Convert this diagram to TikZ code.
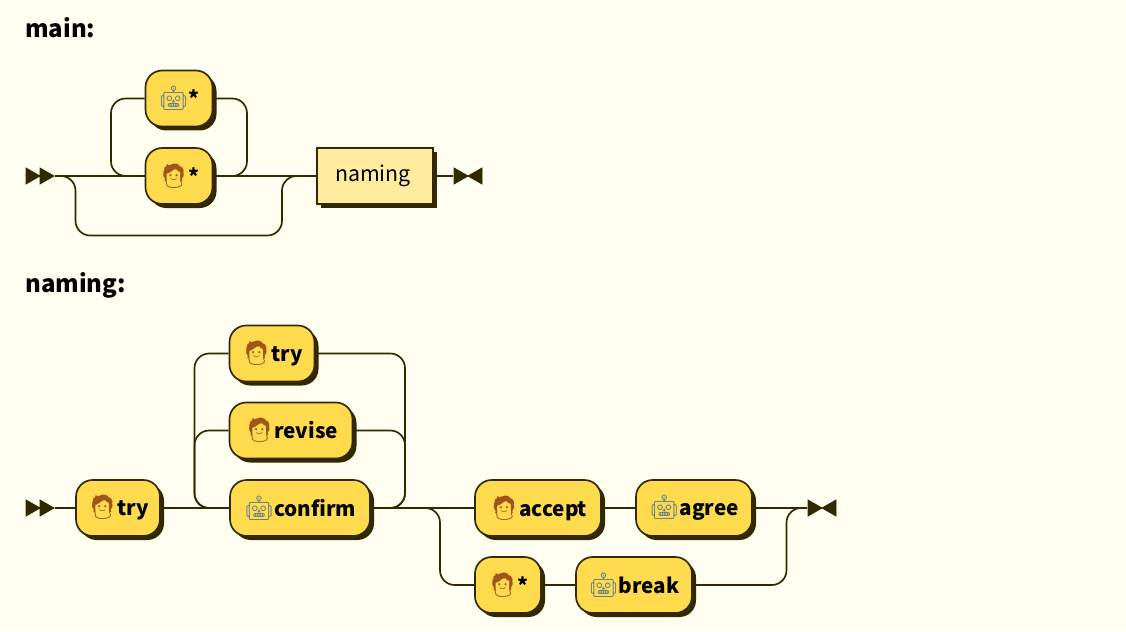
\documentclass[tikz,border=0pt]{standalone}
\usepackage{fontspec}
\setmainfont{Noto Sans CJK SC}
\newfontfamily\emojifont{Noto Emoji}
\usetikzlibrary{shadows}
\definecolor{pagebg}{HTML}{FFFEF0}
\definecolor{railcol}{HTML}{332900}
\definecolor{termfill}{HTML}{FFDB4D}
\definecolor{nontermfill}{HTML}{FFEC9E}
\definecolor{botcol}{HTML}{607D8B}
\definecolor{mancol}{HTML}{A0561A}
\newcommand{\robotface}{{\fontsize{18}{20}\emojifont\color{botcol}\symbol{"1F916}}}
\newcommand{\personface}{{\fontsize{18}{20}\emojifont\color{mancol}\symbol{"1F9D1}}}
\tikzset{
  x=.75pt, y=-.75pt,
  rail/.style={draw=railcol, line width=1.25pt, rounded corners=11pt},
  term/.style={draw=railcol, fill=termfill, line width=1.25pt, rounded corners=12.5pt,
    minimum width=#1*.75pt, minimum height=42pt, inner sep=0pt, font=\fontsize{15.5}{20}\selectfont\bfseries,
    drop shadow={shadow xshift=3pt, shadow yshift=-3pt, fill=railcol, opacity=1}},
  nonterm/.style={draw=railcol, fill=nontermfill, line width=1.25pt,
    minimum width=#1*.75pt, minimum height=42pt, inner sep=0pt, font=\fontsize{16}{20}\selectfont,
    drop shadow={shadow xshift=3pt, shadow yshift=-3pt, fill=railcol, opacity=1}},
  heading/.style={anchor=base west, inner sep=0pt, font=\fontsize{18}{22}\selectfont\bfseries},
  railin/.pic={\filldraw[railcol, line width=.6pt] (-29,-8) -- (-15,0) -- (-29,8) -- cycle (-15,-8) -- (-1,0) -- (-15,8) -- cycle;},
  railout/.pic={\filldraw[railcol, line width=.6pt] (1,-8) -- (15,0) -- (1,8) -- cycle (29,-8) -- (15,0) -- (29,8) -- cycle;},
}
\begin{document}
\begin{tikzpicture}
\fill[pagebg] (0,0) rectangle (1126,631);
\useasboundingbox (0,0) rectangle (1126,631);

% main
\node[heading] (mainhead) at (25,38) {main:};
\coordinate (startA) at (55,176);
\coordinate (stopA) at (453,176);
\coordinate (loopAl) at (111,140);
\coordinate (loopAr) at (247,140);
\coordinate (skipAl) at (75.5,235.5);
\coordinate (skipAr) at (282,235.5);
\node[term=67] (botstar) at (179,98.5) {\robotface*};
\node[term=67] (manstar) at (179,176) {\personface*};
\node[nonterm=116] (naming) at (375,176) {\raisebox{-1.8pt}{naming}\kern 3pt};
\draw[rail] (manstar.west) -| (loopAl) |- (botstar.west);
\draw[rail] (botstar.east) -| (loopAr) |- (manstar.east);
\draw[rail] (startA) -- (manstar.west);
\draw[rail] (manstar.east) -- (naming.west);
\draw[rail] (startA) -| (skipAl) -- (skipAr) |- (naming.west);
\draw[rail] (naming.east) -- (stopA);
\pic at (startA) {railin};
\pic at (stopA) {railout};

% naming
\node[heading] (namehead) at (25,292) {naming:};
\coordinate (startB) at (55,508);
\coordinate (stopB) at (807,508);
\coordinate (loopBl) at (194.5,470);
\coordinate (loopBr) at (405,470);
\coordinate (forkl) at (440,545);
\coordinate (forkr) at (786.5,545);
\node[term=84] (tryA) at (118,508) {\personface try};
\node[term=85] (tryB) at (272,353.5) {\personface try};
\node[term=123] (revise) at (291,430.5) {\personface revise};
\node[term=140] (confirm) at (300,508) {\robotface confirm};
\node[term=126] (accept) at (538,508) {\personface accept};
\node[term=116] (agree) at (694,508) {\robotface agree};
\node[term=66] (manB) at (508,585) {\personface*};
\node[term=116] (break) at (634,585) {\robotface break};
\draw[rail] (startB) -- (tryA.west);
\draw[rail] (tryA.east) -- (confirm.west);
\draw[rail] (confirm.west) -| (loopBl) |- (tryB.west);
\draw[rail] (confirm.west) -| (loopBl) |- (revise.west);
\draw[rail] (tryB.east) -| (loopBr) |- (confirm.east);
\draw[rail] (revise.east) -| (loopBr) |- (confirm.east);
\draw[rail] (confirm.east) -- (accept.west);
\draw[rail] (accept.east) -- (agree.west);
\draw[rail] (agree.east) -- (stopB);
\draw[rail] (confirm.east) -| (forkl) |- (manB.west);
\draw[rail] (manB.east) -- (break.west);
\draw[rail] (break.east) -| (forkr) |- (stopB);
\pic at (startB) {railin};
\pic at (stopB) {railout};
\end{tikzpicture}
\end{document}
